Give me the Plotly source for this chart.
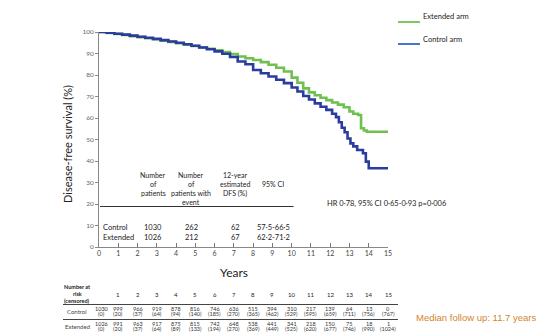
import plotly.graph_objects as go

# ---------------- data ----------------
ctrl_t = [0, 0.4, 0.8, 1.2, 1.6, 2.0, 2.4, 2.8, 3.2, 3.6, 4.0, 4.4, 4.8, 5.2, 5.6, 6.0, 6.4, 6.8, 7.2, 7.6,
          8.0, 8.4, 8.8, 9.2, 9.6, 10.0, 10.3, 10.6, 10.9, 11.2, 11.5, 11.8, 12.1, 12.3, 12.45, 12.6, 12.75,
          12.9, 13.05, 13.2, 13.4, 13.7, 13.85, 14.0, 15.0]
ctrl_s = [100, 99.7, 99.2, 98.8, 98.3, 97.8, 97.3, 96.8, 96.2, 95.6, 95.0, 94.3, 93.6, 92.8, 92.0, 91.0, 89.9,
          88.4, 86.3, 85.0, 82.3, 80.8, 79.3, 77.8, 76.2, 74.2, 72.3, 70.2, 68.6, 66.8, 65.2, 63.8, 62.0, 60.4,
          58.0, 55.5, 53.4, 50.5, 48.2, 46.8, 45.1, 43.6, 39.7, 36.6, 36.6]

ext_t = [0, 0.4, 0.8, 1.2, 1.6, 2.0, 2.4, 2.8, 3.2, 3.6, 4.0, 4.4, 4.8, 5.2, 5.6, 6.0, 6.4, 6.8, 7.2, 7.6,
         8.0, 8.4, 8.8, 9.2, 9.6, 10.0, 10.3, 10.6, 10.9, 11.2, 11.5, 11.8, 12.1, 12.4, 12.7, 13.0, 13.2,
         13.45, 13.6, 13.75, 13.9, 15.0]
ext_s = [100, 99.6, 99.1, 98.6, 98.1, 97.6, 97.1, 96.6, 96.0, 95.4, 94.8, 94.1, 93.5, 92.9, 92.2, 91.5, 90.7,
         89.7, 88.6, 87.8, 87.0, 86.0, 84.8, 83.4, 81.6, 78.8, 76.4, 73.8, 71.9, 70.6, 69.4, 68.3, 67.2, 66.2,
         65.0, 63.0, 62.0, 61.4, 55.2, 54.2, 53.6, 53.6]

series_names = ["Extended arm", "Control arm"]

# inset summary table
tbl_headers = [["Number", "of", "patients"], ["Number", "of", "patients with", "event"],
               ["12-year", "estimated", "DFS (%)"], ["95% CI"]]
tbl_groups = ["Control", "Extended"]
tbl_patients = ["1030", "1026"]
tbl_events = ["262", "212"]
tbl_dfs12 = ["62", "67"]
tbl_ci = ["57·5-66·5", "62·2-71·2"]
hr_text = "HR 0·78, 95% CI 0·65-0·93 p=0·006"

# number at risk (censored)
risk_years = list(range(0, 16))
ctrl_risk = [1030, 999, 966, 919, 878, 816, 746, 636, 515, 394, 310, 217, 139, 64, 13, 0]
ctrl_cens = [0, 20, 37, 64, 94, 140, 185, 270, 365, 462, 529, 595, 659, 711, 756, 767]
ext_risk = [1026, 991, 963, 917, 875, 815, 742, 648, 538, 441, 341, 218, 150, 75, 18, 1]
ext_cens = [0, 20, 37, 64, 89, 133, 194, 270, 369, 449, 525, 620, 677, 746, 990, 1024]

FONT = "Lato"
GREEN = "#6fc051"
BLUE = "#2b3c9f"
LEG_BLUE = "#3566bd"
TXT = "#222222"

fig = go.Figure()
fig.add_trace(go.Scatter(x=ext_t, y=ext_s, mode="lines", line=dict(color=GREEN, width=2.6, shape="hv"),
                         name=series_names[0]))
fig.add_trace(go.Scatter(x=ctrl_t, y=ctrl_s, mode="lines", line=dict(color=BLUE, width=2.6, shape="hv"),
                         name=series_names[1]))

ann = []
# paper helpers: plot area is px x 99..388, y 32..247
def px_x(px):
    return (px - 99) / 289.0
def px_y(py):
    return (247 - py) / 215.0

def A(text, x, y, xref="paper", yref="paper", xanchor="center", yanchor="middle", **kw):
    d = dict(text=text, x=x, y=y, xref=xref, yref=yref, xanchor=xanchor, yanchor=yanchor, showarrow=False)
    d.update(kw)
    ann.append(d)

# axis titles
A("Disease-free survival (%)", px_x(67), px_y(144), textangle=-90,
  font=dict(family=FONT, size=11, color=TXT))
A("Years", px_x(234), px_y(272), font=dict(family=FONT, size=12, color=TXT))

# manual legend (text sits above the line sample, as in the reference)
A(series_names[0], px_x(421), px_y(16), xanchor="left", font=dict(family=FONT, size=7.5, color=TXT))
A(series_names[1], px_x(421), px_y(39), xanchor="left", font=dict(family=FONT, size=7.5, color=TXT))

# inset table headers
hdr_font = dict(family=FONT, size=7, color=TXT)
col_x = [153, 191, 235, 273]
for lines, cx in zip(tbl_headers, col_x):
    if len(lines) == 1:
        A(lines[0], px_x(cx), px_y(184), font=hdr_font)
    else:
        for k, ln in enumerate(lines):
            A(ln, px_x(cx), px_y(175 + 9 * k), font=hdr_font)
row_font = dict(family=FONT, size=7.5, color=TXT)
for i, g in enumerate(tbl_groups):
    py = 227.5 + 10 * i
    A(g, px_x(101), px_y(py), xanchor="left", font=row_font)
    for val, cx in zip([tbl_patients[i], tbl_events[i], tbl_dfs12[i], tbl_ci[i]], col_x):
        A(val, px_x(cx), px_y(py), font=row_font)
A(hr_text, px_x(325), px_y(203), xanchor="left", font=dict(family=FONT, size=7.5, color=TXT))

# number at risk table
rk_font = dict(family=FONT, size=5.5, color="#333333")
A("<b>Number at</b>", px_x(77), px_y(287), font=dict(family=FONT, size=5.5, color=TXT))
A("<b>risk</b>", px_x(77), px_y(294), font=dict(family=FONT, size=5.5, color=TXT))
A("<b>(censored)</b>", px_x(77), px_y(301), font=dict(family=FONT, size=5.5, color=TXT))
for yr in risk_years[1:]:
    A(str(yr), yr, px_y(294), xref="x", font=dict(family=FONT, size=6, color=TXT))
A("Control", px_x(77), px_y(311.5), font=dict(family=FONT, size=6, color="#444444"))
A("Extended", px_x(77), px_y(326.5), font=dict(family=FONT, size=6, color="#444444"))
for yr, n, c in zip(risk_years, ctrl_risk, ctrl_cens):
    xx = yr + (0.15 if yr == 0 else 0)
    A(str(n), xx, px_y(308.5), xref="x", font=rk_font)
    A("(%d)" % c, xx, px_y(314), xref="x", font=rk_font)
for yr, n, c in zip(risk_years, ext_risk, ext_cens):
    xx = yr + (0.15 if yr == 0 else 0)
    A(str(n), xx, px_y(323.5), xref="x", font=rk_font)
    A("(%d)" % c, xx, px_y(329), xref="x", font=rk_font)

A("Median follow up: 11.7 years", px_x(414), px_y(317.5), xanchor="left",
  font=dict(family="Liberation Sans", size=9.5, color="#d4842f"))

shapes = [
    # legend samples
    dict(type="line", xref="paper", yref="paper", x0=px_x(398), x1=px_x(420), y0=px_y(22), y1=px_y(22),
         line=dict(color=GREEN, width=1.8)),
    dict(type="line", xref="paper", yref="paper", x0=px_x(398), x1=px_x(420), y0=px_y(44), y1=px_y(44),
         line=dict(color=LEG_BLUE, width=1.8)),
    # inset table rule
    dict(type="line", xref="x", yref="paper", x0=0.05, x1=10.1, y0=px_y(206.5), y1=px_y(206.5),
         line=dict(color="#333333", width=1)),
    # risk table rules
    dict(type="line", xref="paper", yref="paper", x0=px_x(63), x1=px_x(398), y0=px_y(304.5), y1=px_y(304.5),
         line=dict(color="#444444", width=1)),
    dict(type="line", xref="paper", yref="paper", x0=px_x(63), x1=px_x(398), y0=px_y(319.5), y1=px_y(319.5),
         line=dict(color="#444444", width=1)),
]

fig.update_layout(
    width=554, height=336,
    margin=dict(l=99, r=166, t=32, b=89),
    paper_bgcolor="white", plot_bgcolor="white",
    showlegend=False,
    annotations=ann, shapes=shapes,
    xaxis=dict(range=[0, 15], tickmode="array", tickvals=risk_years, ticks="inside", ticklen=4,
               tickcolor="#777777", showline=True, linecolor="#888888", linewidth=1, showgrid=False,
               zeroline=False, tickfont=dict(family=FONT, size=7, color="#444444"), fixedrange=True),
    yaxis=dict(range=[0, 100], tickmode="array", tickvals=list(range(0, 101, 10)), ticks="outside", ticklen=3,
               tickcolor="#888888", showline=True, linecolor="#888888", linewidth=1, showgrid=False,
               zeroline=False, tickfont=dict(family=FONT, size=6.5, color="#666666"), fixedrange=True),
)

fig.write_html("out.html")
